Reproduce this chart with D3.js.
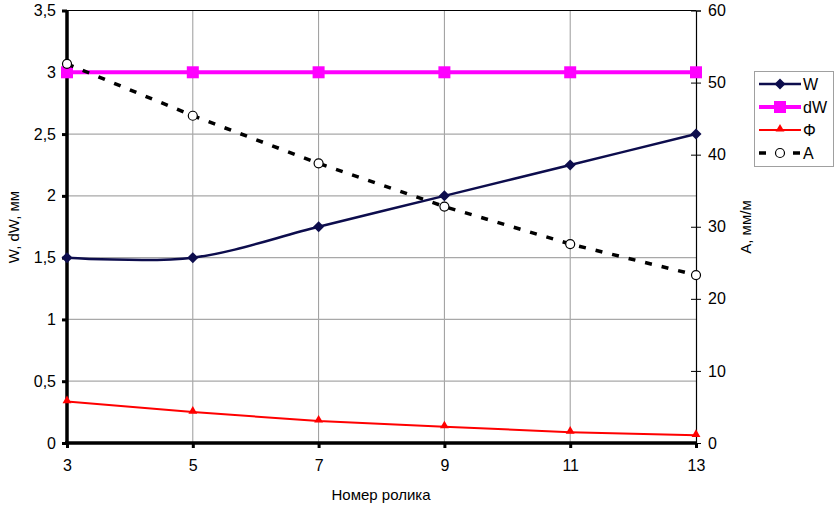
<!DOCTYPE html>
<html>
<head>
<meta charset="utf-8">
<script src="https://cdn.jsdelivr.net/npm/d3@7"></script>
<style>
  body { margin: 0; background: #fff; }
  svg text { font-family: "Liberation Sans", Arial, sans-serif; fill: #000; }
</style>
</head>
<body>
<svg id="chart" width="836" height="507"></svg>
<script>
// Roller numbers along the x axis
const rollers = [3, 5, 7, 9, 11, 13];
// Left axis series (mm)
const W = [1.5, 1.5, 1.75, 2.0, 2.25, 2.5];
const dW = [3, 3, 3, 3, 3, 3];
const Phi = [0.335, 0.25, 0.178, 0.131, 0.088, 0.062];
// Right axis series (mm/m)
const A = [52.6, 45.4, 38.8, 32.8, 27.6, 23.3];
// Tick labels
const leftTicks = [0, 0.5, 1, 1.5, 2, 2.5, 3, 3.5];
const rightTicks = [0, 10, 20, 30, 40, 50, 60];
const xTicks = [3, 5, 7, 9, 11, 13];

const svg = d3.select("#chart");
const L = 67, R = 696, T = 10.5, B = 443;

const x = d3.scaleLinear().domain([3, 13]).range([L, R]);
const yL = d3.scaleLinear().domain([0, 3.5]).range([B, T]);
const yR = d3.scaleLinear().domain([0, 60]).range([B, T]);
const fmt = d => String(d).replace(".", ",");

// grid
const grid = svg.append("g");
grid.selectAll(".gx").data(xTicks.slice(1, -1)).join("line")
  .attr("x1", d => x(d)).attr("x2", d => x(d)).attr("y1", T).attr("y2", B)
  .attr("stroke", "#9a9a9a").attr("stroke-width", 1);
grid.selectAll(".gy").data(leftTicks.slice(1, -1)).join("line")
  .attr("x1", L).attr("x2", R).attr("y1", d => yL(d)).attr("y2", d => yL(d))
  .attr("stroke", "#a8a8a8").attr("stroke-width", 1.3);
// top border
svg.append("line").attr("x1", L).attr("x2", R).attr("y1", T).attr("y2", T)
  .attr("stroke", "#000").attr("stroke-width", 1);

// right axis
const axR = svg.append("g").attr("transform", `translate(${R},0)`)
  .call(d3.axisRight(yR).tickValues(rightTicks).tickSize(5).tickPadding(7).tickFormat(fmt));
axR.select(".domain").attr("stroke-width", 1.2);
axR.selectAll(".tick line").attr("x1", -5).attr("stroke-width", 1);
axR.selectAll("text").attr("font-size", 16).style("font-family", "Liberation Sans, Arial, sans-serif");

// left axis
const axL = svg.append("g").attr("transform", `translate(${L},0)`)
  .call(d3.axisLeft(yL).tickValues(leftTicks).tickSize(5).tickPadding(6).tickFormat(fmt));
axL.select(".domain").attr("stroke-width", 3.5).attr("d", `M0,${T}V${B}`);
axL.selectAll(".tick line").attr("stroke-width", 3);
axL.selectAll("text").attr("font-size", 16).style("font-family", "Liberation Sans, Arial, sans-serif");

// bottom axis
const axB = svg.append("g").attr("transform", `translate(0,${B})`)
  .call(d3.axisBottom(x).tickValues(xTicks).tickSize(5).tickPadding(12).tickFormat(fmt));
axB.select(".domain").attr("stroke-width", 3.5).attr("d", `M${L - 2},0H${R}`);
axB.selectAll(".tick line").attr("stroke-width", 3);
axB.selectAll("text").attr("font-size", 16).style("font-family", "Liberation Sans, Arial, sans-serif");

// axis titles
svg.append("text").attr("transform", "translate(19,227) rotate(-90)")
  .attr("text-anchor", "middle").attr("font-size", 15).text("W, dW, мм");
svg.append("text").attr("transform", "translate(751,227) rotate(-90)")
  .attr("text-anchor", "middle").attr("font-size", 15).text("A, мм/м");
svg.append("text").attr("x", 381).attr("y", 500)
  .attr("text-anchor", "middle").attr("font-size", 15).text("Номер ролика");

const colW = "#0d0d4d", colDW = "#ff00ff", colPhi = "#ff0000";
// rotated square for the W markers
const diamondPath = "M0,-5.5L5.5,0L0,5.5L-5.5,0Z";
const tri = d3.symbol().type(d3.symbolTriangle).size(34);

// dW
const lineL = d3.line().x((d, i) => x(rollers[i])).y(d => yL(d));
svg.append("path").datum(dW).attr("d", lineL).attr("fill", "none")
  .attr("stroke", colDW).attr("stroke-width", 4);
svg.selectAll(".sq").data(dW).join("rect")
  .attr("x", (d, i) => x(rollers[i]) - 6).attr("y", d => yL(d) - 6)
  .attr("width", 12).attr("height", 12).attr("fill", colDW);

// A (right axis)
const lineR = d3.line().x((d, i) => x(rollers[i])).y(d => yR(d));
svg.append("path").datum(A).attr("d", lineR).attr("fill", "none")
  .attr("stroke", "#000").attr("stroke-width", 3.5).attr("stroke-dasharray", "7,10");
svg.selectAll(".ci").data(A).join("circle")
  .attr("cx", (d, i) => x(rollers[i])).attr("cy", d => yR(d)).attr("r", 4.5)
  .attr("fill", "#fff").attr("stroke", "#000").attr("stroke-width", 1.2);

// W (smoothed)
const lineSmooth = d3.line().x((d, i) => x(rollers[i])).y(d => yL(d)).curve(d3.curveCardinal.tension(0));
svg.append("path").datum(W).attr("d", lineSmooth).attr("fill", "none")
  .attr("stroke", colW).attr("stroke-width", 2.5);
svg.selectAll(".dm").data(W).join("path")
  .attr("transform", (d, i) => `translate(${x(rollers[i])},${yL(d)})`)
  .attr("d", diamondPath).attr("fill", colW);

// Phi
svg.append("path").datum(Phi).attr("d", lineL).attr("fill", "none")
  .attr("stroke", colPhi).attr("stroke-width", 2);
svg.selectAll(".tr").data(Phi).join("path")
  .attr("transform", (d, i) => `translate(${x(rollers[i])},${yL(d) - 1})`)
  .attr("d", tri).attr("fill", colPhi);

// legend
const lg = svg.append("g");
lg.append("rect").attr("x", 754.5).attr("y", 71.5).attr("width", 79).attr("height", 95)
  .attr("fill", "#fff").attr("stroke", "#a0a0a0").attr("stroke-width", 1);
const items = [
  { name: "W", y: 84 }, { name: "dW", y: 107 }, { name: "Φ", y: 130 }, { name: "A", y: 153 }
];
const lx1 = 759, lx2 = 801, lm = 780;
// W
lg.append("line").attr("x1", lx1).attr("x2", lx2).attr("y1", items[0].y).attr("y2", items[0].y)
  .attr("stroke", colW).attr("stroke-width", 2.5);
lg.append("path").attr("transform", `translate(${lm},${items[0].y})`).attr("d", diamondPath).attr("fill", colW);
// dW
lg.append("line").attr("x1", lx1).attr("x2", lx2).attr("y1", items[1].y).attr("y2", items[1].y)
  .attr("stroke", colDW).attr("stroke-width", 4);
lg.append("rect").attr("x", lm - 6).attr("y", items[1].y - 6).attr("width", 12).attr("height", 12).attr("fill", colDW);
// Phi
lg.append("line").attr("x1", lx1).attr("x2", lx2).attr("y1", items[2].y).attr("y2", items[2].y)
  .attr("stroke", colPhi).attr("stroke-width", 2);
lg.append("path").attr("transform", `translate(${lm},${items[2].y - 1})`).attr("d", tri).attr("fill", colPhi);
// A
lg.append("line").attr("x1", lx1).attr("x2", lx2).attr("y1", items[3].y).attr("y2", items[3].y)
  .attr("stroke", "#000").attr("stroke-width", 3.5).attr("stroke-dasharray", "7,10");
lg.append("circle").attr("cx", lm).attr("cy", items[3].y).attr("r", 4.5)
  .attr("fill", "#fff").attr("stroke", "#000").attr("stroke-width", 1.2);
lg.selectAll(".lt").data(items).join("text")
  .attr("x", 803).attr("y", d => d.y + 6).attr("font-size", 16).text(d => d.name);
</script>
</body>
</html>
